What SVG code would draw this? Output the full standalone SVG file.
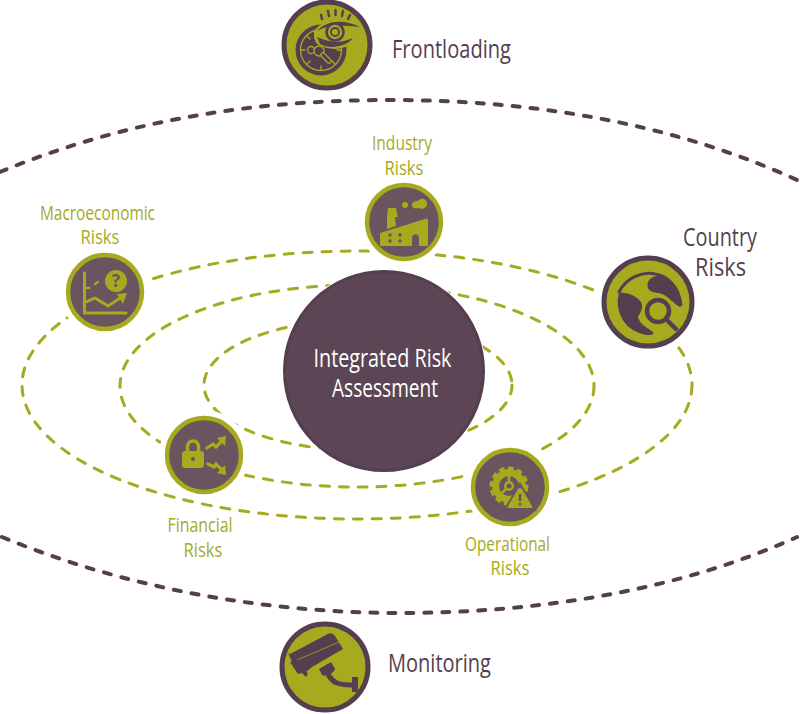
<svg xmlns="http://www.w3.org/2000/svg" width="800" height="714" viewBox="0 0 800 714">
<style>
text{font-family:"Open Sans","Liberation Sans",sans-serif;text-anchor:middle}
.t{fill:#553f4e;font-size:26px}
.g{fill:#a5aa1e;font-size:20.500px}
.el{fill:none;stroke:#a5aa1e;stroke-width:3;stroke-dasharray:9 10;stroke-linecap:round}
.arc{fill:none;stroke:#553f4e;stroke-width:4;stroke-dasharray:7 11;stroke-linecap:round}
.big{fill:#a5aa1e;stroke:#553f4e;stroke-width:5}
.small{fill:#69545f;stroke:#a5aa1e;stroke-width:4.5}
.halo{fill:#fff}
.d{fill:#553f4e}.dl{fill:none;stroke:#553f4e;stroke-linecap:round}
.o{fill:#a5aa1e}.ol{fill:none;stroke:#a5aa1e;stroke-linecap:round}
</style>
<g id="connectors">
<path class="arc" d="M0 172C130 118 260 100 390 100C530 100 670 122 797 180"/>
<path class="arc" d="M2 537C130 590 270 613 400 613C540 613 680 590 797 537"/>
<ellipse class="el" cx="357" cy="385" rx="335" ry="134"/>
<ellipse class="el" cx="357" cy="386" rx="237" ry="101"/>
<ellipse class="el" cx="358" cy="385" rx="154" ry="65"/>
</g>
<g id="center">
<circle class="halo" cx="384" cy="371" r="102"/>
<circle cx="384" cy="371" r="99.500" fill="#5c4656" stroke="#553f4e" stroke-width="3"/>
<text x="382.500" y="367" fill="#fff" font-size="26" textLength="138" lengthAdjust="spacingAndGlyphs">Integrated Risk</text>
<text x="385" y="397" fill="#fff" font-size="26" textLength="106" lengthAdjust="spacingAndGlyphs">Assessment</text>
</g>
<g id="frontloading">
<circle class="big" cx="327" cy="45" r="43"/>
<circle class="d" cx="321" cy="50" r="25.500"/>
<circle cx="321" cy="50" r="20.500" fill="none" stroke="#a5aa1e" stroke-width="1.300"/>
<path class="ol" stroke-width="1.300" d="M321 30V34M321 66V70M301 50H305M337 50H341M307 36L310 39M307 64L310 61M335 64L332 61"/>
<path class="o" d="M314 31C326 16 346 17 362 27L356 38C352 47 334 54 317 44L314 38Z"/>
<path class="d" d="M317 31C328 19 346 20 360 27C346 26 332 23 317 31Z"/>
<circle cx="335" cy="32" r="8.500" fill="#a5aa1e" stroke="#553f4e" stroke-width="2.600"/>
<circle cx="335" cy="32" r="4" fill="#a5aa1e" stroke="#553f4e" stroke-width="1.800"/>
<path class="d" d="M317 37C330 43 342 43 353 38C347 46 330 50 320 44Z"/>
<path class="dl" stroke-width="2.500" d="M321 15L322 19M328 11L329 16M335.500 10L335.500 15M343 11L342 16M350 15L348 19"/>
<circle cx="311" cy="50" r="3.500" fill="#553f4e" stroke="#a5aa1e" stroke-width="1.300"/>
<circle cx="319" cy="51" r="5" fill="#553f4e" stroke="#a5aa1e" stroke-width="1.300"/>
<path d="M323 55L329 61" stroke="#a5aa1e" stroke-width="5.500" stroke-linecap="round"/>
<path d="M323 55L329 61" stroke="#553f4e" stroke-width="3" stroke-linecap="round"/>
<text class="t" x="451.500" y="58" textLength="119" lengthAdjust="spacingAndGlyphs">Frontloading</text>
</g>
<g id="monitoring">
<circle class="big" cx="325" cy="667" r="43"/>
<path class="d" d="M290 654L326 635C330 632 333 633 335 636L343 649L312 667L306 672Z"/>
<path class="d" d="M288 653L296 658L308 674L306 677L293 664Z"/>
<path class="d" d="M290 662L296 660L305 672L298 674Z"/>
<path d="M297 660L339 642M308 672L344 650" stroke="#a5aa1e" stroke-width="0.800" fill="none"/>
<path class="d" d="M319 669L331 662L335 669C333 674 326 677 322 675Z"/>
<path class="dl" stroke-width="5" stroke-linecap="butt" d="M329 676C333 682 337 685 352 685"/>
<rect class="d" x="352" y="677" width="6" height="15"/>
<text class="t" x="439.500" y="672" textLength="103" lengthAdjust="spacingAndGlyphs">Monitoring</text>
</g>
<g id="country">
<circle class="halo" cx="648" cy="302" r="54"/>
<circle class="big" cx="648" cy="302" r="44"/>
<path class="dl" stroke-width="3" stroke-linecap="butt" d="M619 292C626 278 642 271 655 274C669 276 679 288 681 305"/>
<path class="d" d="M661 276C650 275 646 282 648 288C650 293 656 292 662 294C668 296 674 304 680 307C683 292 675 281 661 276Z"/>
<path class="d" d="M619 293C628 292 636 296 641 302C644 308 640 313 638 317C640 325 648 328 653 332C655 335 650 335 646 335A33 33 0 0 1 619 293Z"/>
<circle cx="658" cy="311" r="15.500" fill="#a5aa1e"/>
<circle cx="658" cy="311" r="11" fill="#a5aa1e" stroke="#553f4e" stroke-width="4.500"/>
<path class="dl" stroke-width="4.500" d="M667 320L676 329"/>
<text class="t" x="720" y="246" textLength="74" lengthAdjust="spacingAndGlyphs">Country</text>
<text class="t" x="720.500" y="276" textLength="51" lengthAdjust="spacingAndGlyphs">Risks</text>
</g>
<g id="industry">
<circle class="halo" cx="404" cy="222" r="45"/>
<circle class="small" cx="404" cy="222" r="37"/>
<path class="o" d="M380 233L425 219C427 218 428 219 428 221V246H419V238C419 233 412 233 412 238V246H380Z"/>
<path class="o" d="M388 208H396L398 217H395L396 226L387 229L387 217H387Z"/>
<circle class="o" cx="405" cy="205" r="3"/>
<path class="o" d="M412 205C412 202 415 201 418 201C421 197 427 199 427 204C427 208 422 210 419 208C415 209 412 208 412 205Z"/>
<g fill="#69545f"><circle cx="390" cy="235" r="1.700"/><circle cx="400" cy="235" r="1.700"/><circle cx="390" cy="241" r="1.700"/><circle cx="400" cy="241" r="1.700"/></g>
<text class="g" x="402" y="150" textLength="60" lengthAdjust="spacingAndGlyphs">Industry</text>
<text class="g" x="404" y="175" textLength="39" lengthAdjust="spacingAndGlyphs">Risks</text>
</g>
<g id="macroeconomic">
<circle class="halo" cx="105" cy="292" r="45"/>
<circle class="small" cx="105" cy="292" r="37"/>
<path class="ol" stroke-width="3" d="M84.500 273V313H126M86 302L95 298L108 306L120 298"/>
<path class="ol" stroke-width="2.500" d="M86 288H89M95 284L98 282"/>
<path class="o" d="M117 294L127 293L123 304Z"/>
<circle class="o" cx="116" cy="281" r="11"/>
<text x="116" y="287" fill="#69545f" font-size="17" font-weight="700">?</text>
<text class="g" x="97.500" y="220" textLength="115" lengthAdjust="spacingAndGlyphs">Macroeconomic</text>
<text class="g" x="100" y="244" textLength="39" lengthAdjust="spacingAndGlyphs">Risks</text>
</g>
<g id="financial">
<circle class="halo" cx="204" cy="455" r="45"/>
<circle class="small" cx="204" cy="455" r="37"/>
<rect class="o" x="182" y="451" width="22" height="17" rx="3"/>
<path class="ol" stroke-width="3.500" d="M187.500 451V447C187.500 439 198.500 439 198.500 447V451"/>
<circle cx="193" cy="459" r="2" fill="#69545f"/>
<path class="ol" stroke-width="3.200" d="M207 448L213 444L216 447L222 441"/>
<path class="o" d="M217 438L226 436L225 446Z"/>
<path class="ol" stroke-width="3.200" d="M208 464L214 467L216 464L222 470"/>
<path class="o" d="M217 473L226 475L225 465Z"/>
<text class="g" x="200" y="532" textLength="65" lengthAdjust="spacingAndGlyphs">Financial</text>
<text class="g" x="203" y="557" textLength="39" lengthAdjust="spacingAndGlyphs">Risks</text>
</g>
<g id="operational">
<circle class="halo" cx="510" cy="487" r="45"/>
<circle class="small" cx="510" cy="487" r="37"/>
<circle cx="509" cy="486" r="13.500" fill="none" stroke="#a5aa1e" stroke-width="7"/>
<circle cx="509" cy="486" r="17.500" fill="none" stroke="#a5aa1e" stroke-width="4" stroke-dasharray="5.500 3.500"/>
<circle cx="509" cy="486" r="5" fill="#a5aa1e"/>
<circle cx="509" cy="486" r="2.500" fill="#69545f"/>
<path d="M509 476V482M502 493L506 489" stroke="#a5aa1e" stroke-width="2.500"/>
<path fill="#69545f" d="M520 482L537 511H503Z"/>
<path class="o" d="M520 488C521 488 522 489 522 489L532 506C533 508 532 508 531 508H509C508 508 507 508 508 506L518 489C518 489 519 488 520 488Z"/>
<path stroke="#69545f" stroke-width="2.500" fill="none" d="M520 494V501M520 503V505.500"/>
<text class="g" x="507.500" y="551" textLength="85" lengthAdjust="spacingAndGlyphs">Operational</text>
<text class="g" x="510" y="575" textLength="39" lengthAdjust="spacingAndGlyphs">Risks</text>
</g>
</svg>
